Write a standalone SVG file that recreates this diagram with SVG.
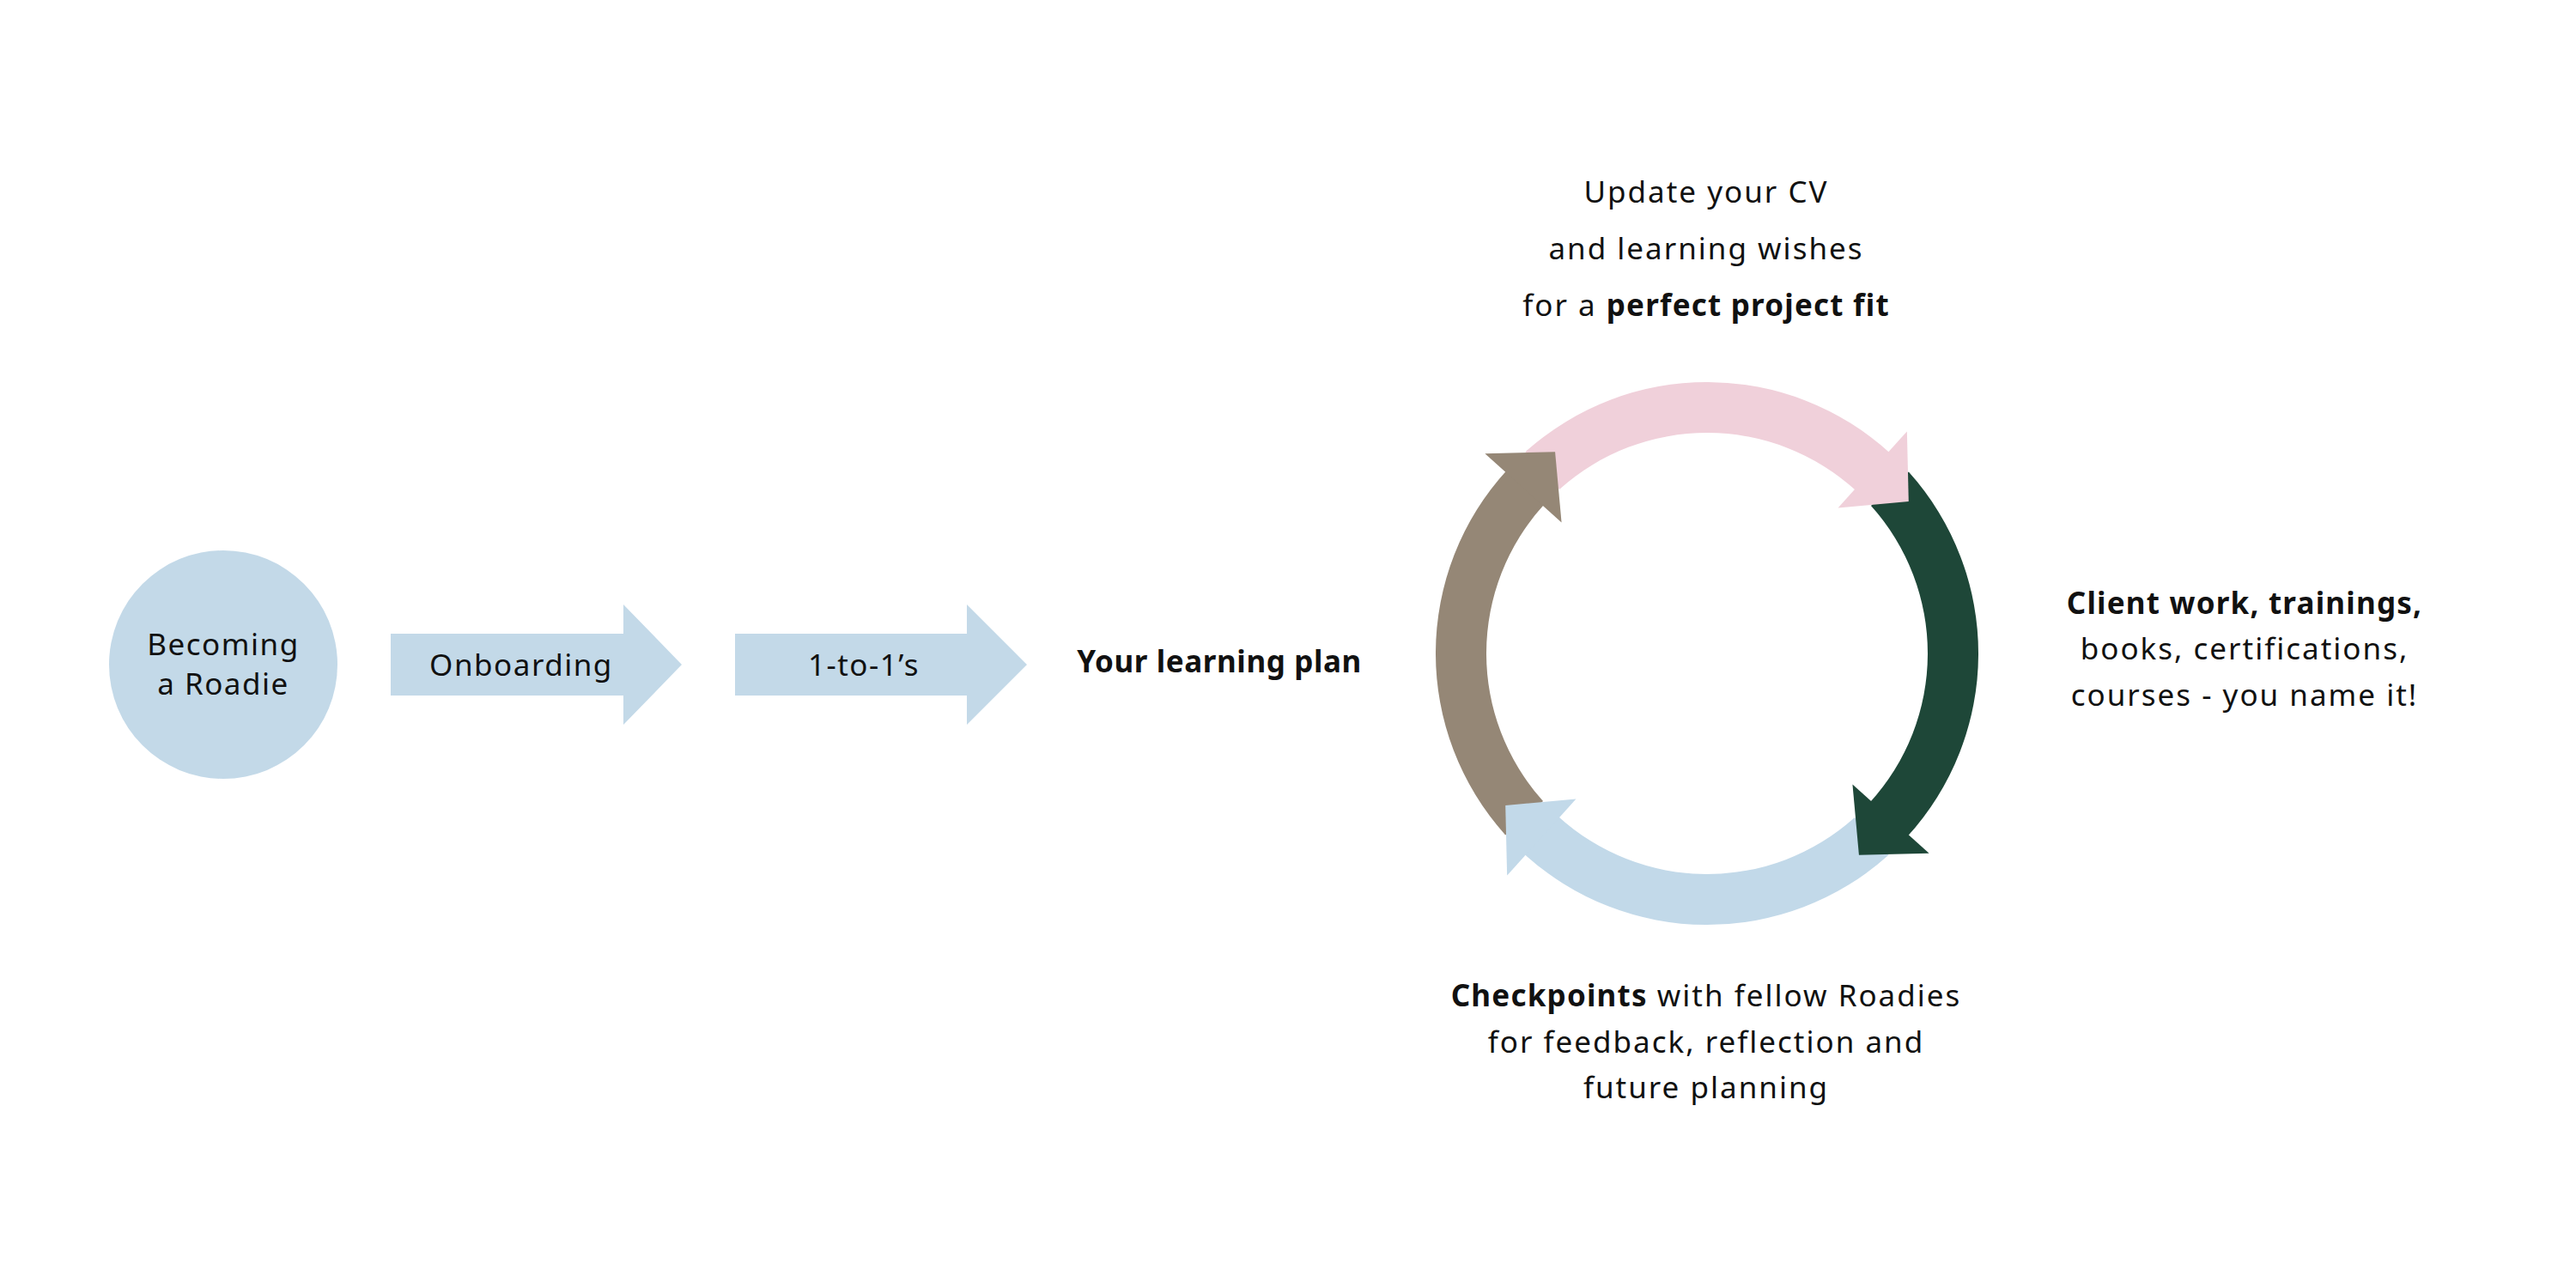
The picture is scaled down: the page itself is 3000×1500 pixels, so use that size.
<svg xmlns="http://www.w3.org/2000/svg" xmlns:xlink="http://www.w3.org/1999/xlink" width="3000" height="1500" viewBox="0 0 3000 1500">
  <style>
    .t { font-family: "Noto Sans", "Open Sans", sans-serif; font-size: 35px; fill: #111111; letter-spacing: 2px; }
    .b { font-weight: 700; letter-spacing: 1.2px; }
    .lb { fill: #C3D9E8; }
    .pink { fill: #F0D0DA; }
    .green { fill: #1E4738; }
    .blue { fill: #C2D9E9; }
    .brown { fill: #958776; }
  </style>
  <defs>
    <path id="arcBody" d="M316 0 A316 316 0 0 1 30.29 314.55 L24.63 255.82 A257 257 0 0 0 257 0 Z"/>
    <path id="arcHead" d="M23.83 226.75 L36.38 346.09 L-25.62 292.88 Z"/>
  </defs>
  <rect width="3000" height="1500" fill="#ffffff"/>

  <g id="node-becoming">
    <circle class="lb" cx="260" cy="774" r="133"/>
    <text class="t" x="260" y="763" text-anchor="middle" style="letter-spacing:1.5px">Becoming</text>
    <text class="t" x="260" y="809" text-anchor="middle" style="letter-spacing:1.5px">a Roadie</text>
  </g>

  <g id="node-onboarding">
    <polygon class="lb" points="455,738 726,738 726,704 794,774 726,844 726,810 455,810"/>
    <text class="t" x="607" y="787" text-anchor="middle" style="letter-spacing:1.5px">Onboarding</text>
  </g>

  <g id="node-1to1">
    <polygon class="lb" points="856,738 1126,738 1126,704 1196,774 1126,844 1126,810 856,810"/>
    <text class="t" x="1006" y="787" text-anchor="middle" style="letter-spacing:1.5px">1-to-1’s</text>
  </g>

  <g id="node-plan">
    <text class="t b" x="1420" y="783" text-anchor="middle" style="letter-spacing:0.6px">Your learning plan</text>
  </g>

  <g id="connectors">
    <g id="cycle-bodies" transform="translate(1988 761)">
      <use xlink:href="#arcBody" class="pink" transform="rotate(228)"/>
      <use xlink:href="#arcBody" class="green" transform="rotate(318)"/>
      <use xlink:href="#arcBody" class="blue" transform="rotate(48)"/>
      <use xlink:href="#arcBody" class="brown" transform="rotate(138)"/>
    </g>
    <g id="cycle-heads" transform="translate(1988 761)">
      <use xlink:href="#arcHead" class="pink" transform="rotate(228)"/>
      <use xlink:href="#arcHead" class="green" transform="rotate(318)"/>
      <use xlink:href="#arcHead" class="blue" transform="rotate(48)"/>
      <use xlink:href="#arcHead" class="brown" transform="rotate(138)"/>
    </g>
  </g>

  <g id="node-update">
    <text class="t" x="1987" y="236" text-anchor="middle">Update your CV</text>
    <text class="t" x="1987" y="302" text-anchor="middle">and learning wishes</text>
    <text class="t" x="1987" y="368" text-anchor="middle">for a <tspan class="b">perfect project fit</tspan></text>
  </g>

  <g id="node-client">
    <text class="t b" x="2614" y="715" text-anchor="middle">Client work, trainings,</text>
    <text class="t" x="2614" y="768" text-anchor="middle">books, certifications,</text>
    <text class="t" x="2614" y="822" text-anchor="middle">courses - you name it!</text>
  </g>

  <g id="node-checkpoints">
    <text class="t" x="1987" y="1172" text-anchor="middle"><tspan class="b">Checkpoints</tspan> with fellow Roadies</text>
    <text class="t" x="1987" y="1226" text-anchor="middle">for feedback, reflection and</text>
    <text class="t" x="1987" y="1279" text-anchor="middle">future planning</text>
  </g>
</svg>
